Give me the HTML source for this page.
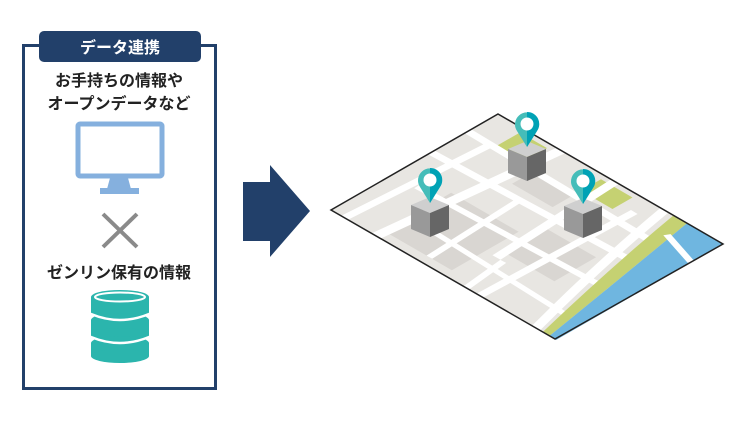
<!DOCTYPE html>
<html><head><meta charset="utf-8"><style>
body{margin:0;background:#fff;width:750px;height:422px;overflow:hidden}
svg{display:block}
text{font-family:"Liberation Sans","Noto Sans CJK JP",sans-serif;font-weight:bold}
</style></head><body>
<svg width="750" height="422" viewBox="0 0 750 422" xmlns="http://www.w3.org/2000/svg">
<rect x="23.5" y="45.5" width="192" height="343" fill="#fff" stroke="#22406a" stroke-width="3"/>
<rect x="39" y="31" width="162" height="31" rx="5" fill="#22406a"/>
<text x="120" y="53" font-size="16" fill="#fff" text-anchor="middle">データ連携</text>
<text x="119" y="86" font-size="16" fill="#222" text-anchor="middle">お手持ちの情報や</text>
<text x="119" y="109" font-size="16" fill="#222" text-anchor="middle">オープンデータなど</text>
<rect x="78" y="124" width="84" height="52" rx="2" fill="#fff" stroke="#85b0de" stroke-width="5"/>
<polygon points="110,178 128,178 131,189 107,189" fill="#85b0de"/>
<rect x="100" y="188" width="39" height="6" fill="#85b0de"/>
<path d="M103 214 L137 247 M137 214 L103 247" stroke="#8a8a8a" stroke-width="4"/>
<text x="119" y="278" font-size="16" fill="#222" text-anchor="middle">ゼンリン保有の情報</text>
<g fill="#2bb5ad">
<ellipse cx="120" cy="297" rx="29" ry="7"/>
<rect x="91" y="297" width="58" height="15"/>
<ellipse cx="120" cy="312" rx="29" ry="7"/>
<ellipse cx="120" cy="320" rx="29" ry="7"/>
<rect x="91" y="320" width="58" height="15"/>
<ellipse cx="120" cy="335" rx="29" ry="7"/>
<ellipse cx="120" cy="343" rx="29" ry="7"/>
<rect x="91" y="343" width="58" height="13"/>
<ellipse cx="120" cy="356" rx="29" ry="7"/>
</g>
<ellipse cx="120" cy="297" rx="25" ry="4.5" fill="none" stroke="#fff" stroke-width="2"/>
<path d="M91 314 Q120 326 149 314 M91 337 Q120 349 149 337" fill="none" stroke="#fff" stroke-width="2.5"/>
<polygon points="243,182 270,182 270,165 310,211 270,257 270,241 243,241" fill="#22406a"/>
<g transform="matrix(2.25,1.30,-1.67,0.96,498,114)">
<rect x="0" y="0" width="100" height="100" fill="#e8e6e2"/>
<rect x="20" y="55" width="30" height="40" fill="#d9d6d2"/>
<rect x="55" y="45" width="22" height="25" fill="#d9d6d2"/>
<rect x="30" y="20" width="18" height="12" fill="#d9d6d2"/>
<rect x="12" y="3" width="12" height="14" fill="#c5d172"/>
<rect x="48" y="3" width="14" height="12" fill="#c5d172"/>
<g stroke="#fff" fill="none">
<path d="M0 18 L82 20" stroke-width="4"/>
<path d="M0 40 L90 36" stroke-width="4"/>
<path d="M10 62 L95 58" stroke-width="3.5"/>
<path d="M20 80 L95 84" stroke-width="3"/>
<path d="M28 0 L20 100" stroke-width="4"/>
<path d="M52 0 L55 75" stroke-width="3.5"/>
<path d="M68 10 L66 100" stroke-width="3"/>
<path d="M10 20 L6 100" stroke-width="3"/>
<path d="M38 40 L40 95" stroke-width="2.5"/>
<path d="M58 75 L60 100" stroke-width="2.5"/>
<path d="M74 0 Q80 45 91 100" stroke-width="3.5"/>
</g>
<path d="M78 0 L84 0 Q90 45 97 100 L94 100 Q84 45 78 0 Z" fill="#c5d172"/>
<path d="M84 0 L100 0 L100 100 L97 100 Q90 45 84 0 Z" fill="#6fb6e0"/>
<path d="M84 12 L100 19" stroke="#fff" stroke-width="3" fill="none"/>
</g>
<polygon points="498,114 723,244 555,339 331,210" fill="none" stroke="#222" stroke-width="1.5"/>
<g id="c">
<polygon points="430,197 449,205 430,213 411,205" fill="#cfcfcf"/>
<polygon points="411,205 430,213 430,237 411,229" fill="#999"/>
<polygon points="430,213 449,205 449,229 430,237" fill="#666"/>
<path d="M430 203 L420 187 A12 12 0 1 1 440 187 Z" fill="#45bdb9"/>
<path d="M430 203 L440 187 A12 12 0 0 0 430 168 Z" fill="#00a2b5"/>
<circle cx="430" cy="180" r="6.5" fill="#fff"/>
</g>
<use href="#c" transform="translate(97,-56)"/>
<use href="#c" transform="translate(153,1)"/>
</svg>
</body></html>
